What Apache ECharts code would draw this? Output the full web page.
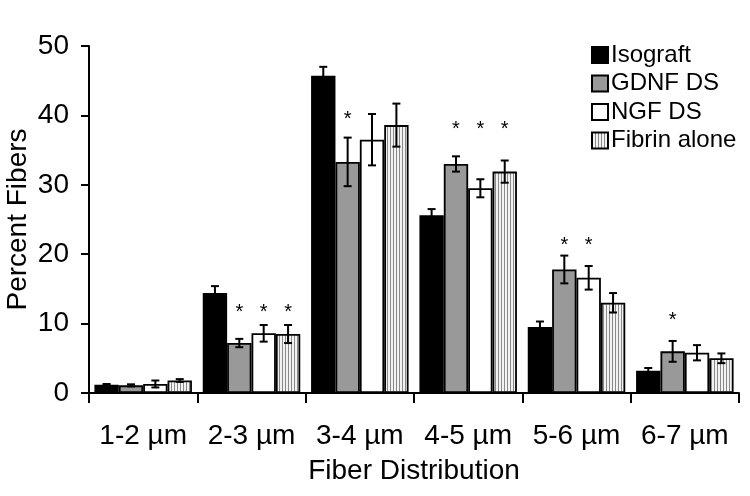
<!DOCTYPE html>
<html>
<head>
<meta charset="utf-8">
<script src="https://cdn.jsdelivr.net/npm/echarts@6/dist/echarts.min.js"></script>
<style>html,body{margin:0;padding:0;background:#fff}#c{width:750px;height:496px}</style>
</head>
<body>
<div id="c"></div>
<script>
const categories = ['1-2 µm', '2-3 µm', '3-4 µm', '4-5 µm', '5-6 µm', '6-7 µm'];
const seriesNames = ['Isograft', 'GDNF DS', 'NGF DS', 'Fibrin alone'];
const isograft    = [1.2, 14.4, 45.7, 25.6, 9.5, 3.2];
const gdnf        = [1.1, 7.2, 33.3, 33.0, 17.8, 6.0];
const ngf         = [1.3, 8.6, 36.5, 29.5, 16.6, 5.8];
const fibrin      = [1.8, 8.5, 38.6, 31.9, 13.0, 5.0];
const isograftErr = [0.1, 1.0, 1.3, 0.9, 0.8, 0.4];
const gdnfErr     = [0.15, 0.6, 3.5, 1.1, 2.0, 1.5];
const ngfErr      = [0.5, 1.2, 3.7, 1.3, 1.7, 1.1];
const fibrinErr   = [0.2, 1.3, 3.1, 1.6, 1.4, 0.7];
// asterisk heights per category for each series (null = no asterisk)
const isograftStar = [null, null, null, null, null, null];
const gdnfStar     = [null, 12.2, 40.0, 38.6, 21.9, 11.0];
const ngfStar      = [null, 12.2, null, 38.6, 21.9, null];
const fibrinStar   = [null, 12.2, null, 38.6, null, null];
const yTicks = [0, 10, 20, 30, 40, 50];

const values = [isograft, gdnf, ngf, fibrin];
const errs = [isograftErr, gdnfErr, ngfErr, fibrinErr];
const stars = [isograftStar, gdnfStar, ngfStar, fibrinStar];

// striped pattern for Fibrin alone
const pc = document.createElement('canvas');
pc.width = 3; pc.height = 4;
const pctx = pc.getContext('2d');
pctx.fillStyle = '#f2f2f2'; pctx.fillRect(0, 0, 3, 4);
pctx.fillStyle = '#8a8a8a'; pctx.fillRect(0, 0, 1, 4);

const colors = ['#000000', '#999999', '#ffffff', {image: pc, repeat: 'repeat'}];
const FONT = 'Liberation Sans, Arial, sans-serif';
const GAP = 0.10;

const errData = [];
const starData = [];
for (let s = 0; s < 4; s++) {
  for (let c = 0; c < categories.length; c++) {
    errData.push([c, s, values[s][c], errs[s][c]]);
    if (stars[s][c] != null) starData.push([c, s, stars[s][c]]);
  }
}

function barX(api, cat, s) {
  const c = api.coord([cat, 0]);
  const bw = api.size([1, 0])[0];
  const w = bw * (1 - GAP) / 4;
  return {x: c[0] + (s - 1.5) * w, w: w};
}

const series = seriesNames.map((n, i) => ({
  name: n,
  type: 'bar',
  data: values[i],
  barGap: '0%',
  barCategoryGap: (GAP * 100) + '%',
  itemStyle: {color: colors[i], borderColor: '#000', borderWidth: 1.8},
  emphasis: {disabled: true},
  animation: false
}));

series.push({
  type: 'custom',
  data: errData,
  encode: {x: 0, y: 2},
  z: 5,
  animation: false,
  renderItem: function (params, api) {
    const cat = api.value(0), s = api.value(1), v = api.value(2), e = api.value(3);
    const bx = barX(api, cat, s);
    const top = api.coord([cat, v + e])[1];
    const bot = api.coord([cat, v - e])[1];
    const cap = 4;
    const st = {stroke: '#000', lineWidth: 2};
    return {
      type: 'group',
      children: [
        {type: 'line', shape: {x1: bx.x, y1: top, x2: bx.x, y2: bot}, style: st},
        {type: 'line', shape: {x1: bx.x - cap, y1: top, x2: bx.x + cap, y2: top}, style: st},
        {type: 'line', shape: {x1: bx.x - cap, y1: bot, x2: bx.x + cap, y2: bot}, style: st}
      ]
    };
  }
});

series.push({
  type: 'custom',
  data: starData,
  encode: {x: 0, y: 2},
  z: 6,
  animation: false,
  renderItem: function (params, api) {
    const cat = api.value(0), s = api.value(1), v = api.value(2);
    const bx = barX(api, cat, s);
    const y = api.coord([cat, v])[1];
    return {
      type: 'text',
      style: {text: '*', x: bx.x, y: y + 4, align: 'center', verticalAlign: 'middle',
              font: '20px ' + FONT, fill: '#000'}
    };
  }
});

const chart = echarts.init(document.getElementById('c'), null, {renderer: 'canvas'});
chart.setOption({
  backgroundColor: '#fff',
  animation: false,
  grid: {left: 89, right: 11, top: 46, bottom: 103, containLabel: false, outerBoundsMode: 'none'},
  legend: {
    orient: 'vertical',
    left: 586,
    top: 38,
    itemWidth: 16,
    itemHeight: 16,
    itemGap: 4.5,
    icon: 'rect',
    data: seriesNames,
    selectedMode: false,
    textStyle: {fontFamily: FONT, fontSize: 24, color: '#000', padding: [0, 0, 0, -2]}
  },
  xAxis: {
    type: 'category',
    data: categories,
    name: 'Fiber Distribution',
    nameLocation: 'middle',
    nameGap: 64,
    nameMoveOverlap: false,
    nameTextStyle: {fontFamily: FONT, fontSize: 28, color: '#000'},
    axisLine: {lineStyle: {color: '#000', width: 2}},
    axisTick: {show: true, length: 10, interval: 0, alignWithLabel: false, lineStyle: {color: '#000', width: 2}},
    axisLabel: {fontFamily: FONT, fontSize: 28, color: '#000', margin: 29, interval: 0},
    splitLine: {show: false}
  },
  yAxis: {
    type: 'value',
    min: 0,
    max: 50,
    interval: 10,
    name: 'Percent Fibers',
    nameLocation: 'middle',
    nameGap: 57,
    nameMoveOverlap: false,
    nameTextStyle: {fontFamily: FONT, fontSize: 28, color: '#000'},
    axisLine: {show: true, lineStyle: {color: '#000', width: 2}},
    axisTick: {show: true, length: 8, lineStyle: {color: '#000', width: 2}},
    axisLabel: {fontFamily: FONT, fontSize: 28, color: '#000', margin: 20,
      formatter: v => (yTicks.indexOf(v) >= 0 ? String(v) : '')},
    splitLine: {show: false}
  },
  series: series
});
</script>
</body>
</html>
